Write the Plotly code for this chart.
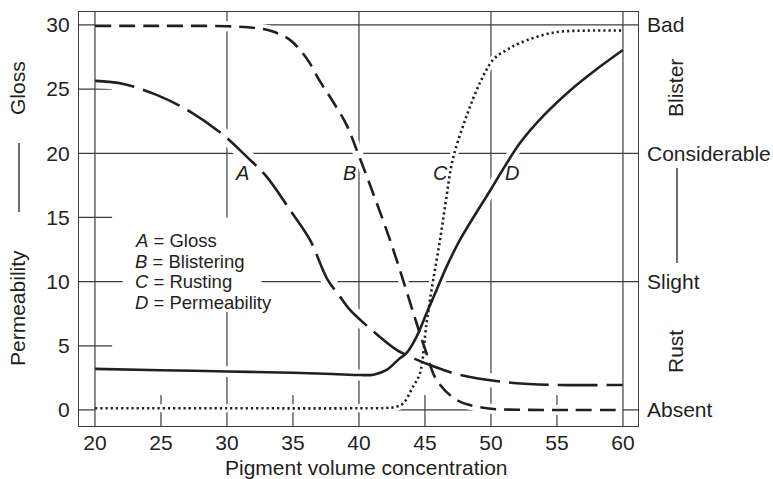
import plotly.graph_objects as go

# ---------------- data ----------------
pvc_gloss = [20, 22.15, 24.67, 27.2, 29.72, 31.49, 33.0, 34.77, 36.29, 37.6, 38.56, 39.32,
             40.5, 42.85, 43.6, 45, 47.65, 51.7, 55, 60]
gloss = [25.64, 25.4, 24.55, 23.25, 21.43, 19.74, 18.18, 15.59, 13.25, 10.2, 8.83, 7.79,
         6.65, 4.68, 4.29, 3.65, 2.73, 2.1, 1.95, 1.95]

pvc_blister = [20, 25, 30, 32.25, 33.3, 34.77, 36.03, 37.05, 38.05, 39.07, 39.85, 42.35,
               44.37, 45.12, 45.88, 47.4, 49.67, 52, 55, 60]
blister = [29.93, 29.93, 29.9, 29.75, 29.55, 28.84, 27.4, 25.6, 24.0, 22.2, 20.2, 13.25,
           6.75, 4.4, 2.34, 0.78, 0.13, 0.02, 0.0, 0.0]

pvc_rust = [20, 30, 40, 42, 42.86, 43.36, 44.1, 44.62, 45.12, 45.5, 46.14, 46.6, 47.1,
            48.15, 49.17, 50.17, 51.19, 52.2, 54.7, 57.25, 60]
rust = [0.13, 0.13, 0.13, 0.15, 0.26, 0.52, 1.82, 2.86, 6.76, 9.35, 13.25, 16.4, 19.5,
        22.9, 25.5, 27.3, 28.05, 28.6, 29.4, 29.56, 29.56]

pvc_perm = [20, 25, 30, 35, 38, 40.1, 41.1, 42.1, 43.1, 43.6, 44.37, 45.12, 45.88, 46.64,
            47.65, 50, 51, 52.2, 54, 56, 58, 60]
perm = [3.2, 3.1, 3.0, 2.9, 2.8, 2.72, 2.75, 3.12, 4.03, 4.42, 5.71, 7.53, 9.35, 11.17,
        13.25, 17.2, 18.9, 20.8, 22.95, 24.9, 26.55, 28.05]

x_major = [20, 30, 40, 50, 60]
x_minor = [25, 35, 45, 55]
y_major = [0, 10, 20, 30]
y_minor = [5, 15, 25]
x_ticks = [20, 25, 30, 35, 40, 45, 50, 55, 60]
y_ticks = [0, 5, 10, 15, 20, 25, 30]
right_ticks = [0, 10, 20, 30]
right_labels = ["Absent", "Slight", "Considerable", "Bad"]

curve_letters = ["A", "B", "C", "D"]
curve_names = ["Gloss", "Blistering", "Rusting", "Permeability"]
letter_x = [31.14, 39.32, 46.14, 51.59]
letter_y = 18.47

# ---------------- layout geometry ----------------
W, H = 773, 479
L, R, T, B = 79, 638, 12, 426
XR = [18.79, 61.14]
YR = [-1.25, 31.01]

def px_x(p):
    return (p - L) / (R - L)

def px_y(p):
    return 1 - (p - T) / (B - T)

INK = "#231f20"
GRID = "#3c3c3c"
FONT = "Liberation Sans, Arial, Helvetica, sans-serif"
AX = 21

fig = go.Figure()

series = [
    (pvc_gloss, gloss, "40px,9px", 2.6, 14),
    (pvc_blister, blister, "16px,8px", 2.6, 10),
    (pvc_rust, rust, "2.2px,3px", 2.6, 8),
    (pvc_perm, perm, "solid", 2.6, 11),
]

# white halos (gaps in grid lines where curves cross)
for xs, ys, dash, w, hw in series:
    fig.add_trace(go.Scatter(x=xs, y=ys, mode="lines", hoverinfo="skip", showlegend=False,
                             line=dict(color="white", width=hw, shape="spline", smoothing=1)))

for (xs, ys, dash, w, hw), nm in zip(series, curve_names):
    fig.add_trace(go.Scatter(x=xs, y=ys, mode="lines", name=nm, showlegend=False,
                             line=dict(color=INK, width=w, dash=dash, shape="spline", smoothing=1)))

# dummy trace for the right-hand axis
fig.add_trace(go.Scatter(x=[], y=[], yaxis="y2", showlegend=False, hoverinfo="skip"))

shapes = []
for xv in x_major:
    layer = "above" if xv in (20, 60) else "below"
    shapes.append(dict(type="line", xref="x", yref="paper", x0=xv, x1=xv, y0=0, y1=1,
                       line=dict(color=GRID, width=1.2), layer=layer))
for xv in x_minor:
    shapes.append(dict(type="line", xref="x", yref="y", x0=xv, x1=xv, y0=YR[0], y1=1.17,
                       line=dict(color=GRID, width=1.2), layer="below"))
for yv in y_major:
    shapes.append(dict(type="line", xref="paper", yref="y", x0=0, x1=1, y0=yv, y1=yv,
                       line=dict(color=GRID, width=1.2), layer="below"))
for yv in y_minor:
    shapes.append(dict(type="line", xref="x", yref="y", x0=XR[0], x1=21.3, y0=yv, y1=yv,
                       line=dict(color=GRID, width=1.2), layer="below"))
# white patch behind the key text
shapes.append(dict(type="rect", xref="x", yref="y", x0=22.1, x1=32.6, y0=7.64, y1=15.0,
                   fillcolor="white", line=dict(width=0), layer="below"))
# left and right axis-title separators
shapes.append(dict(type="line", xref="paper", yref="paper", x0=px_x(19), x1=px_x(19),
                   y0=px_y(143), y1=px_y(212), line=dict(color=INK, width=1.3)))
shapes.append(dict(type="line", xref="paper", yref="paper", x0=px_x(677), x1=px_x(677),
                   y0=px_y(168), y1=px_y(263), line=dict(color=INK, width=1.3)))

annotations = []
for lt, lx in zip(curve_letters, letter_x):
    annotations.append(dict(x=lx, y=letter_y, xref="x", yref="y", text="<i>%s</i>" % lt,
                            xanchor="center", yanchor="middle",
                            showarrow=False, font=dict(size=20, color=INK, family=FONT)))
key_y = [13.17, 11.57, 9.98, 8.38]
for lt, nm, ky in zip(curve_letters, curve_names, key_y):
    annotations.append(dict(x=22.88, y=ky, xref="x", yref="y", xanchor="left", yanchor="middle",
                            text="<i>%s</i> = %s" % (lt, nm), showarrow=False,
                            font=dict(size=18.5, color=INK, family=FONT)))
annotations.append(dict(x=px_x(366.5), y=px_y(467), xref="paper", yref="paper",
                        xanchor="center", yanchor="middle",
                        text="Pigment volume concentration", showarrow=False,
                        font=dict(size=AX, color=INK, family=FONT)))
for txt, cx, cy in [("Gloss", 17, 88), ("Permeability", 17, 308),
                    ("Blister", 675, 88), ("Rust", 675, 352)]:
    annotations.append(dict(x=px_x(cx), y=px_y(cy), xref="paper", yref="paper", text=txt,
                            xanchor="center", yanchor="middle",
                            textangle=-90, showarrow=False,
                            font=dict(size=AX, color=INK, family=FONT)))

fig.update_layout(
    width=W, height=H,
    margin=dict(l=L, r=W - R, t=T, b=H - B, pad=0, autoexpand=False),
    paper_bgcolor="white", plot_bgcolor="white",
    font=dict(family=FONT, size=AX, color=INK),
    showlegend=False,
    xaxis=dict(range=XR, tickvals=x_ticks, ticks="", showgrid=False, zeroline=False,
               showline=True, mirror=True, linecolor=GRID, linewidth=1.3, automargin=False,
               ticklabelstandoff=-2, tickfont=dict(size=AX)),
    yaxis=dict(range=YR, tickvals=y_ticks, ticks="", showgrid=False, zeroline=False,
               showline=True, mirror=True, linecolor=GRID, linewidth=1.3, automargin=False,
               ticklabelstandoff=4, tickfont=dict(size=AX)),
    yaxis2=dict(range=YR, overlaying="y", side="right", tickvals=right_ticks,
                ticktext=right_labels, ticks="", showgrid=False, zeroline=False,
                showline=False, automargin=False, ticklabelstandoff=8,
                tickfont=dict(size=AX)),
    shapes=shapes,
    annotations=annotations,
)

fig.write_html("out.html")
